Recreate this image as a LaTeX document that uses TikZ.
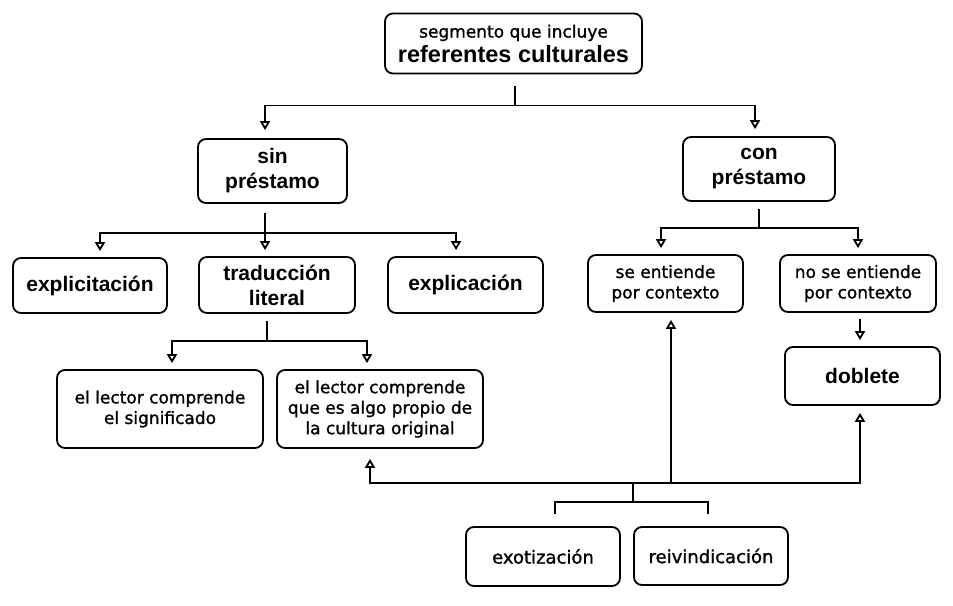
\documentclass[tikz,border=0pt]{standalone}
\usepackage{fontspec}
\setmainfont{Liberation Sans}
\newfontfamily\smallfont[FakeBold=1.2]{DejaVu Sans}
\usetikzlibrary{arrows.meta}
\begin{document}
\begin{tikzpicture}[x=1pt,y=-1pt,
  box/.style={draw, line width=1.8pt, rounded corners=8pt, align=center, inner sep=0pt},
  big/.style={box, font=\fontsize{21}{25}\selectfont\bfseries},
  small/.style={box, font=\fontsize{17}{20.5}\smallfont},
  conn/.style={line width=1.8pt},
  arr/.style={conn, -{Triangle[open,length=9pt,width=10pt]}}]
\useasboundingbox (0,0) rectangle (953,605);
\fill[white] (0,0) rectangle (953,605);

% nodes
\node[box, minimum width=257pt, minimum height=60pt] (top) at (513.5,43.5)
  {{\fontsize{17}{20}\smallfont segmento que incluye}\\[3pt]{\fontsize{23.5}{26}\selectfont\bfseries referentes culturales}};
\node[big, minimum width=149pt, minimum height=64pt] (sin) at (272.5,171) {sin\\préstamo};
\node[big, minimum width=152pt, minimum height=64pt] (con) at (759,169) {con\\préstamo};
\node[big, minimum width=154pt, minimum height=55pt] (expa) at (90,285.5) {explicitación};
\node[big, minimum width=156pt, minimum height=56pt] (trad) at (277,285) {traducción\\literal};
\node[big, minimum width=155pt, minimum height=56pt] (expb) at (465.5,285) {explicación};
\node[small, minimum width=155pt, minimum height=57pt] (seent) at (665.5,283.5) {se entiende\\por contexto};
\node[small, minimum width=156pt, minimum height=57pt] (noent) at (858,283.5) {no se entiende\\por contexto};
\node[big, minimum width=155pt, minimum height=58pt] (dob) at (862.5,376) {doblete};
\node[small, minimum width=206pt, minimum height=78pt] (leca) at (160,409) {el lector comprende\\el significado};
\node[small, minimum width=206pt, minimum height=78pt] (lecb) at (380,409) {el lector comprende\\que es algo propio de\\la cultura original};
\node[small, minimum width=154pt, minimum height=59pt, font=\fontsize{18}{22}\smallfont] (exo) at (543,556.5) {exotización};
\node[small, minimum width=154pt, minimum height=58pt, font=\fontsize{18}{22}\smallfont] (reiv) at (711,556) {reivindicación};

% top tree
\draw[conn] ([xshift=1.5pt,yshift=-12pt]top.south) -- ++(0,19) coordinate (j1);
\draw[arr] (j1) -| ([xshift=-7.5pt,yshift=8pt]sin.north);
\draw[arr] (j1) -| ([xshift=-4pt,yshift=7pt]con.north);

% sin prestamo tree
\draw[conn] ([xshift=-7.5pt,yshift=-9pt]sin.south) -- ++(0,20) coordinate (j2);
\draw[arr] (j2) -| ([xshift=10pt,yshift=6pt]expa.north);
\draw[arr] (j2) -- ([xshift=-12pt,yshift=6pt]trad.north);
\draw[arr] (j2) -| ([xshift=-9.5pt,yshift=6pt]expb.north);

% con prestamo tree
\draw[conn] ([yshift=-7pt]con.south) -- ++(0,19) coordinate (j3);
\draw[arr] (j3) -| ([xshift=-4.5pt,yshift=6pt]seent.north);
\draw[arr] (j3) -| ([yshift=6pt]noent.north);
\draw[arr] ([xshift=2pt,yshift=-6pt]noent.south) -- ([xshift=-2.5pt,yshift=6pt]dob.north);

% traduccion literal tree
\draw[conn] ([xshift=-10pt,yshift=-7pt]trad.south) -- ++(0,20) coordinate (j4);
\draw[arr] (j4) -| ([xshift=12pt,yshift=6pt]leca.north);
\draw[arr] (j4) -| ([xshift=-13pt,yshift=6pt]lecb.north);

% bottom tree
\coordinate (k) at (633,502);
\coordinate (m) at (633,483);
\coordinate (n) at (671,483);
\draw[conn] ([xshift=12pt,yshift=12pt]exo.north) |- (k) -| ([xshift=-3pt,yshift=12pt]reiv.north);
\draw[conn] (k) -- (m);
\draw[arr] (m) -| ([xshift=-10pt,yshift=-10pt]lecb.south);
\draw[arr] (m) -| ([xshift=-2.5pt,yshift=-7pt]dob.south);
\draw[arr] (n) -- ([xshift=5.5pt,yshift=-7pt]seent.south);
\end{tikzpicture}
\end{document}
